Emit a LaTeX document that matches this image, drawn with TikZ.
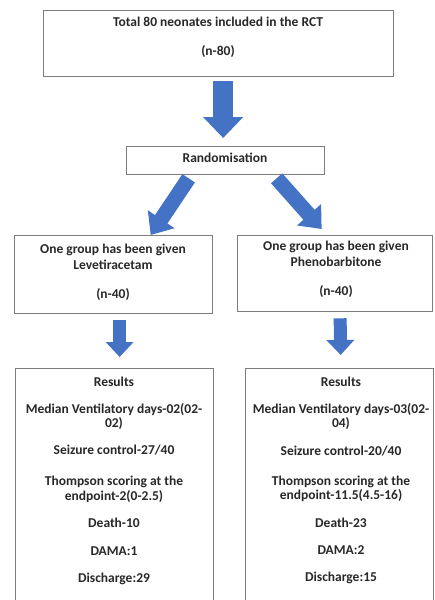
\documentclass[tikz,border=0pt]{standalone}
\usepackage{fontspec}
\setmainfont{Carlito}
\usetikzlibrary{arrows.meta,calc}
\definecolor{arrowblue}{RGB}{68,114,196}
\definecolor{boxgray}{RGB}{125,125,125}
\definecolor{txt}{RGB}{40,40,40}
\begin{document}
\begin{tikzpicture}[x=1pt,y=-1pt,
  box/.style={draw=boxgray,line width=1.3pt,fill=white,inner sep=0pt,anchor=north west},
  lbl/.style={font=\fontsize{13.5}{16}\selectfont\bfseries,text=txt,inner sep=0pt,text height=8.7pt,text depth=2.2pt},
  bigarrow/.style={draw=arrowblue,line width=20pt,-{Triangle[length=21pt,width=39pt]}},
  diagarrow/.style={draw=arrowblue,line width=15pt,-{Triangle[length=19pt,width=31pt]}},
  smallarrow/.style={draw=arrowblue,line width=13pt,-{Triangle[length=15pt,width=27pt]}}
]
\useasboundingbox (0,0) rectangle (434,600);
\clip (0,0) rectangle (434,600);
% boxes
\node[box,minimum width=350pt,minimum height=66pt] (top) at (43,10) {};
\node[box,minimum width=198pt,minimum height=28pt] (rand) at (126,146) {};
\node[box,minimum width=198pt,minimum height=78pt] (left) at (14,235) {};
\node[box,minimum width=195pt,minimum height=76pt] (right) at (237,235) {};
\node[box,minimum width=198pt,minimum height=260pt] (resl) at (15,368) {};
\node[box,minimum width=188pt,minimum height=260pt] (resr) at (245,368) {};
% texts
\node[lbl] (t1) at (218,23) {Total 80 neonates included in the RCT};
\node[lbl] (t2) at (218,52) {(n-80)};
\node[lbl] (t3) at (225,159) {Randomisation};
\node[lbl] (l1) at (113,250) {One group has been given};
\node[lbl] (l2) at (113,266) {Levetiracetam};
\node[lbl] (l3) at (113,295) {(n-40)};
\node[lbl] (r1) at (336,247) {One group has been given};
\node[lbl] (r2) at (336,263) {Phenobarbitone};
\node[lbl] (r3) at (336,292) {(n-40)};
\node[lbl] (a1) at (114,383) {Results};
\node[lbl] (a2) at (114,410) {Median Ventilatory days-02(02-};
\node[lbl] (a3) at (114,424) {02)};
\node[lbl] (a4) at (114,451) {Seizure control-27/40};
\node[lbl] (a5) at (114,482) {Thompson scoring at the};
\node[lbl] (a6) at (114,497) {endpoint-2(0-2.5)};
\node[lbl] (a7) at (114,524) {Death-10};
\node[lbl] (a8) at (114,552) {DAMA:1};
\node[lbl] (a9) at (114,579) {Discharge:29};
\node[lbl] (b1) at (341,383) {Results};
\node[lbl] (b2) at (341,410) {Median Ventilatory days-03(02-};
\node[lbl] (b3) at (341,424) {04)};
\node[lbl] (b4) at (341,452) {Seizure control-20/40};
\node[lbl] (b5) at (341,482) {Thompson scoring at the};
\node[lbl] (b6) at (341,496) {endpoint-11.5(4.5-16)};
\node[lbl] (b7) at (341,524) {Death-23};
\node[lbl] (b8) at (341,551) {DAMA:2};
\node[lbl] (b9) at (341,578) {Discharge:15};
% arrows
\draw[bigarrow] ($(top.south)+(4.5,4)$) -- ($(rand.north)+(-2.5,-8)$);
\draw[diagarrow] ($(rand.south)+(-37,3)$) -- ($(left.north)+(37,0)$);
\draw[diagarrow] ($(rand.south)+(51,3)$) -- ($(right.north)+(-13.5,-6)$);
\draw[smallarrow] ($(left.south)+(6,6)$) -- ($(resl.north)+(5,-11)$);
\draw[smallarrow] ($(right.south)+(5,6)$) -- ($(resr.north)+(1,-13)$);
\end{tikzpicture}
\end{document}
